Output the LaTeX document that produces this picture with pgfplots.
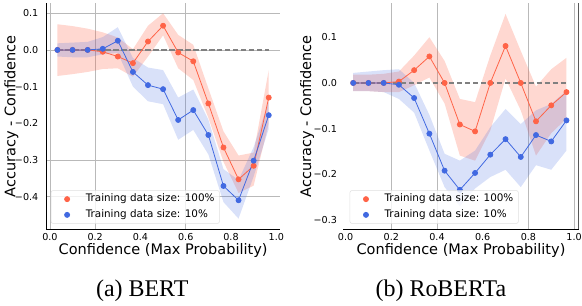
\documentclass[border=0pt]{standalone}
\usepackage{fontspec}
\setmainfont{DejaVu Sans}
\newfontfamily\capfont{Liberation Serif}
\usepackage{pgfplots}
\pgfplotsset{compat=1.18}
\usepackage{pgfplotstable}
\usepgfplotslibrary{fillbetween}
\definecolor{tomato}{RGB}{255,99,71}
\definecolor{royal}{RGB}{65,105,225}

% BERT, training data size 100%
\pgfplotstableread{
x      y      lo     hi
0.0333 0.000 -0.071  0.070
0.1000 0.000 -0.066  0.065
0.1667 0.000 -0.060  0.058
0.2333 -0.005 -0.052 0.048
0.3000 -0.018 -0.050 0.034
0.3667 -0.036 -0.073 0.002
0.4333 0.023 -0.018  0.066
0.5000 0.066  0.040  0.100
0.5667 -0.007 -0.050 0.041
0.6333 -0.031 -0.082 0.014
0.7000 -0.146 -0.185 -0.105
0.7667 -0.266 -0.305 -0.222
0.8333 -0.353 -0.390 -0.288
0.9000 -0.316 -0.370 -0.280
0.9667 -0.130 -0.200 -0.055
}\bertFull
% BERT, training data size 10%
\pgfplotstableread{
x      y      lo     hi
0.0333 0.000 -0.018  0.018
0.1000 0.000 -0.020  0.020
0.1667 0.000 -0.020  0.022
0.2333 0.003 -0.012  0.035
0.3000 0.025 -0.008  0.062
0.3667 -0.060 -0.100 -0.022
0.4333 -0.096 -0.140 -0.048
0.5000 -0.107 -0.148 -0.055
0.5667 -0.191 -0.245 -0.130
0.6333 -0.164 -0.218 -0.108
0.7000 -0.232 -0.285 -0.190
0.7667 -0.371 -0.415 -0.325
0.8333 -0.410 -0.460 -0.355
0.9000 -0.302 -0.345 -0.265
0.9667 -0.178 -0.215 -0.140
}\bertTen
% RoBERTa, training data size 100%
\pgfplotstableread{
x      y      lo     hi
0.0333 0.000 -0.018  0.018
0.1000 0.000 -0.018  0.018
0.1667 0.000 -0.020  0.020
0.2333 0.003 -0.020  0.025
0.3000 0.028 -0.005  0.060
0.3667 0.058  0.012  0.100
0.4333 0.000 -0.045  0.048
0.5000 -0.091 -0.159 -0.035
0.5667 -0.106 -0.170 -0.042
0.6333 0.000 -0.104  0.060
0.7000 0.081  0.010  0.151
0.7667 0.000 -0.060  0.070
0.8333 -0.084 -0.159 -0.008
0.9000 -0.049 -0.110  0.030
0.9667 -0.020 -0.078  0.055
}\robFull
% RoBERTa, training data size 10%
\pgfplotstableread{
x      y      lo     hi
0.0333 0.000 -0.018  0.022
0.1000 0.000 -0.018  0.025
0.1667 0.000 -0.020  0.028
0.2333 -0.004 -0.035 0.030
0.3000 -0.033 -0.065 0.000
0.3667 -0.111 -0.148 -0.070
0.4333 -0.192 -0.228 -0.155
0.5000 -0.234 -0.270 -0.170
0.5667 -0.197 -0.231 -0.148
0.6333 -0.157 -0.206 -0.097
0.7000 -0.123 -0.190 -0.057
0.7667 -0.162 -0.228 -0.090
0.8333 -0.114 -0.180 -0.060
0.9000 -0.128 -0.190 -0.046
0.9667 -0.082 -0.148 -0.017
}\robTen

\pgfplotsset{
  panel/.style={
    scale only axis, height=170.25pt, anchor=south west,
    axis x line*=bottom, axis y line*=left,
    axis line style={-, black, line width=0.6pt},
    tick style={draw=none},
    xtick={0,0.2,0.4,0.6,0.8,1},
    xticklabels={0.0,0.2,0.4,0.6,0.8,1.0},
    ticklabel style={font=\fontsize{7.2}{8}\selectfont},
    xticklabel style={inner sep=0pt, anchor=north, yshift=-2.9pt},
    xlabel={Confidence (Max Probability)},
    ylabel={Accuracy - Confidence},
    label style={font=\fontsize{10.9}{12}\selectfont},
    xlabel style={at={(axis description cs:0.5,-0.091)}, anchor=center},
    extra x tick labels={}, extra y tick labels={},
    extra tick style={grid=major},
    major grid style={gray!55, line width=0.6pt},
    legend cell align=left,
    legend image code/.code={\path (0,0) (21.75pt,0); \draw[##1, fill opacity=1, draw opacity=1] plot coordinates {(8pt,0)};},
    legend style={fill=white, fill opacity=0.8, draw opacity=1, text opacity=1, draw=gray!25,
      rounded corners=1.5pt, inner xsep=3.75pt, inner ysep=2.8pt, row sep=4.5pt,
      font=\fontsize{7.8}{8}\selectfont,
      nodes={inner sep=0pt, text height=5.7pt, text depth=1.6pt}},
  },
  orangeline/.style={color=tomato, line width=0.6pt, mark=*, mark size=1.9pt,
    mark options={solid, fill=tomato, draw=none}},
  blueline/.style={color=royal, line width=0.6pt, mark=*, mark size=1.9pt,
    mark options={solid, fill=royal, draw=none}},
  zeroline/.style={gray, line width=0.9pt, dash pattern=on 4pt off 2pt, forget plot},
}

\begin{document}
\begin{tikzpicture}
\path (0pt,0pt) rectangle (436.5pt,228pt);

\begin{axis}[panel, at={(34.275pt,55.5pt)}, width=175pt,
  xmin=-0.0145, xmax=1.0145, ymin=-0.49, ymax=0.128,
  ytick={-0.4,-0.3,-0.2,-0.1,0,0.1},
  yticklabels={−0.4,−0.3,−0.2,−0.1,0.0,0.1},
  yticklabel style={inner sep=0pt, anchor=east, xshift=-6.1pt},
  ylabel style={at={(axis description cs:-0.151,0.5)}, anchor=center},
  extra x ticks={0,0.2,0.6}, extra y ticks={0.1,0,-0.3,-0.4},
  legend style={at={(axis description cs:0.018,0.026)}, anchor=south west},
]
\addplot[name path=fu, draw=none, forget plot] table[x=x,y=hi]{\bertFull};
\addplot[name path=fl, draw=none, forget plot] table[x=x,y=lo]{\bertFull};
\addplot[tomato, fill opacity=0.25, draw=none, forget plot] fill between[of=fu and fl];
\addplot[name path=tu, draw=none, forget plot] table[x=x,y=hi]{\bertTen};
\addplot[name path=tl, draw=none, forget plot] table[x=x,y=lo]{\bertTen};
\addplot[royal, fill opacity=0.2, draw=none, forget plot] fill between[of=tu and tl];
\addplot[zeroline] coordinates {(0.0333,0) (0.9667,0)};
\addplot[orangeline] table[x=x,y=y]{\bertFull};
\addlegendentry{Training data size: 100\%}
\addplot[blueline] table[x=x,y=y]{\bertTen};
\addlegendentry{Training data size: 10\%}
\end{axis}

\begin{axis}[panel, at={(257.175pt,55.5pt)}, width=176.8pt,
  xmin=-0.01, xmax=1.02, ymin=-0.321, ymax=0.175,
  y axis line style={draw=none},
  ytick={-0.3,-0.2,-0.1,0,0.1},
  yticklabels={−0.3,−0.2,−0.1,0.0,0.1},
  yticklabel style={inner sep=0pt, anchor=east, xshift=-4.6pt},
  ylabel style={at={(axis description cs:-0.154,0.5)}, anchor=center},
  extra x ticks={0.2,0.4,0.8,1},
  legend style={at={(axis description cs:0.027,0.026)}, anchor=south west},
]
\addplot[name path=fu, draw=none, forget plot] table[x=x,y=hi]{\robFull};
\addplot[name path=fl, draw=none, forget plot] table[x=x,y=lo]{\robFull};
\addplot[tomato, fill opacity=0.25, draw=none, forget plot] fill between[of=fu and fl];
\addplot[name path=tu, draw=none, forget plot] table[x=x,y=hi]{\robTen};
\addplot[name path=tl, draw=none, forget plot] table[x=x,y=lo]{\robTen};
\addplot[royal, fill opacity=0.2, draw=none, forget plot] fill between[of=tu and tl];
\addplot[zeroline] coordinates {(0.0333,0) (0.9667,0)};
\addplot[orangeline] table[x=x,y=y]{\robFull};
\addlegendentry{Training data size: 100\%}
\addplot[blueline] table[x=x,y=y]{\robTen};
\addlegendentry{Training data size: 10\%}
\draw[black, line width=0.6pt] (rel axis cs:1,0) -- (rel axis cs:1,1);
\end{axis}

\node[font=\capfont\fontsize{18}{21}\selectfont, anchor=base] at (106.1pt,5.6pt) {(a) BERT};
\node[font=\capfont\fontsize{18}{21}\selectfont, anchor=base] at (330.5pt,5.6pt) {(b) RoBERTa};
\end{tikzpicture}
\end{document}
